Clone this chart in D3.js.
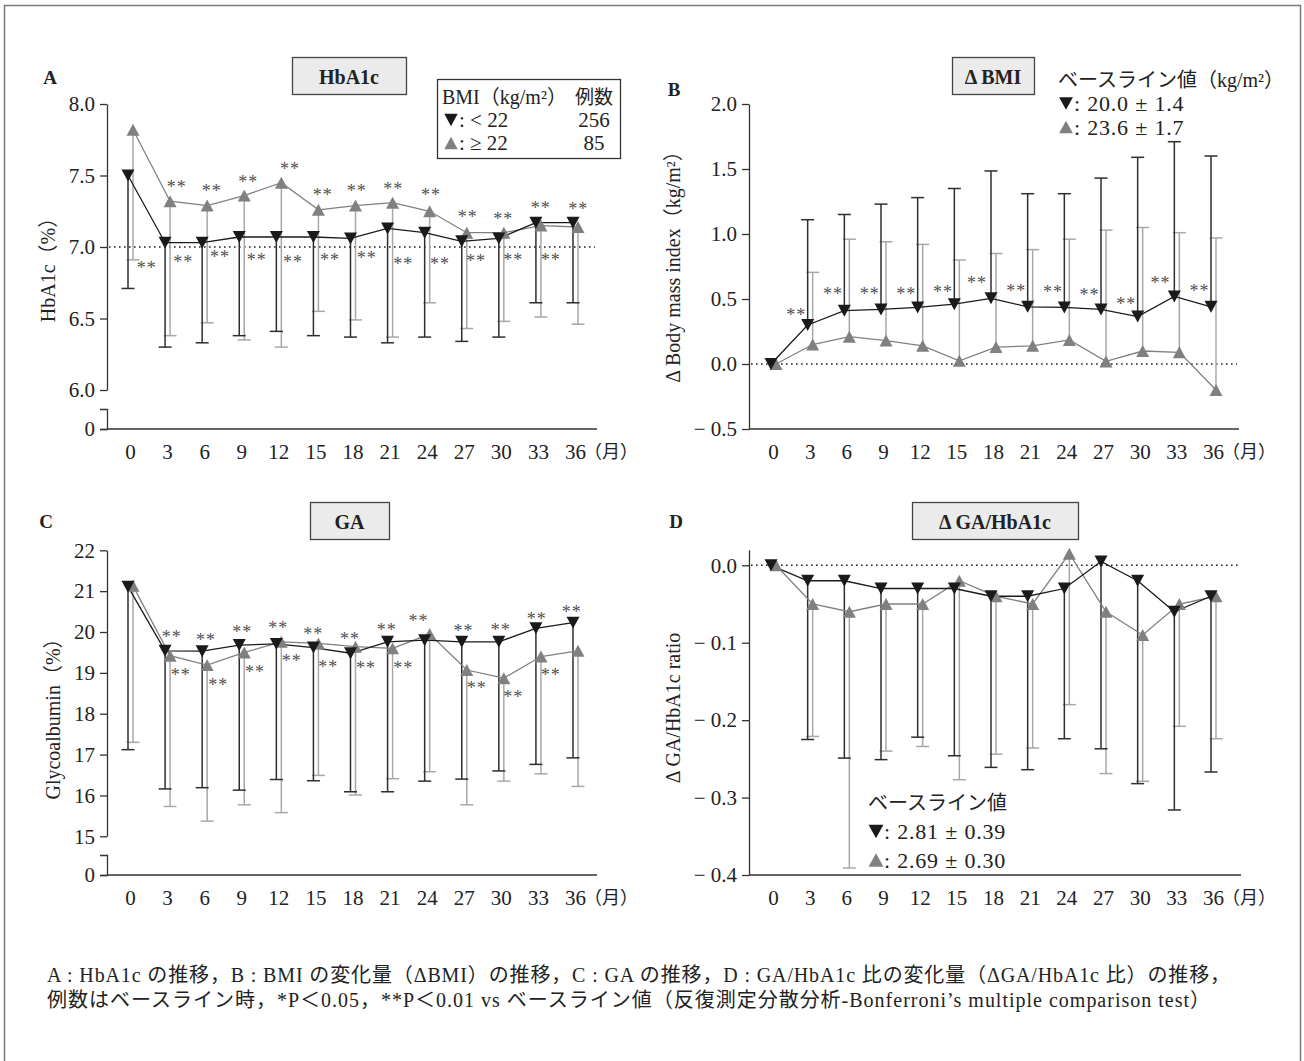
<!DOCTYPE html>
<html><head><meta charset="utf-8">
<script src="https://cdn.jsdelivr.net/npm/d3@7"></script>
<style>
body{margin:0;background:#fff;}
svg{display:block;}
text{font-family:"Liberation Serif","Noto Sans CJK JP",serif;fill:#222;}
</style></head><body>
<svg id="chart" width="1304" height="1061"></svg>
<script>
// ---------- data ----------
const months = [0,3,6,9,12,15,18,21,24,27,30,33,36];
const monthLabels = months.map(String);
const monthUnit = "（月）";

// Panel A: HbA1c (%)
const hba1cTicks = [8.0,7.5,7.0,6.5,6.0];
const hba1cLow    = [7.50,7.03,7.03,7.07,7.07,7.07,7.06,7.13,7.10,7.04,7.06,7.17,7.17];
const hba1cLowEnd = [6.71,6.30,6.33,6.38,6.41,6.38,6.37,6.33,6.37,6.34,6.37,6.61,6.61];
const hba1cHigh    = [7.82,7.32,7.29,7.36,7.45,7.26,7.29,7.31,7.25,7.10,7.10,7.15,7.14];
const hba1cHighEnd = [6.91,6.38,6.47,6.35,6.30,6.55,6.49,6.37,6.61,6.43,6.48,6.51,6.46];
const hba1cStarsHigh = [[3.78,7.44],[6.61,7.41],[9.57,7.47],[12.94,7.56],[15.59,7.38],[18.34,7.41],[21.30,7.42],[24.35,7.38],[27.32,7.23],[30.20,7.21],[33.23,7.29],[36.27,7.28]];
const hba1cStarsLow = [[1.35,6.87],[4.31,6.91],[7.28,6.95],[10.25,6.93],[13.19,6.91],[16.18,6.93],[19.15,6.94],[22.11,6.90],[25.08,6.90],[28.0,6.92],[31.01,6.93],[34.04,6.93]];

// Panel B: ΔBMI (kg/m2)
const bmiTicks = [2.0,1.5,1.0,0.5,0.0,-0.5];
const bmiLow    = [0,0.30,0.41,0.42,0.435,0.46,0.505,0.44,0.435,0.42,0.365,0.52,0.44];
const bmiLowEnd = [null,1.11,1.15,1.23,1.28,1.35,1.485,1.31,1.31,1.43,1.59,1.71,1.60];
const bmiHigh    = [0,0.15,0.21,0.18,0.14,0.025,0.13,0.14,0.185,0.02,0.10,0.09,-0.20];
const bmiHighEnd = [null,0.705,0.96,0.94,0.92,0.80,0.85,0.88,0.96,1.03,1.05,1.01,0.97];
const bmiStarsLow = [[1.91,0.40],[4.91,0.56],[7.91,0.56],[10.91,0.56],[13.91,0.57],[16.7,0.64],[19.9,0.58],[22.9,0.57],[25.9,0.55],[28.9,0.48],[31.7,0.64],[34.9,0.58]];

// Panel C: GA (%)
const gaTicks = [22,21,20,19,18,17,16,15];
const gaLow    = [21.11,19.54,19.53,19.68,19.71,19.62,19.48,19.76,19.80,19.76,19.76,20.09,20.23];
const gaLowEnd = [17.12,16.16,16.19,16.13,16.39,16.36,16.09,16.09,16.35,16.40,16.60,16.76,16.92];
const gaHigh    = [21.13,19.42,19.19,19.50,19.76,19.72,19.64,19.60,19.95,19.07,18.87,19.40,19.54];
const gaHighEnd = [17.30,15.73,15.37,15.77,15.58,16.49,16.01,16.41,16.58,15.77,16.35,16.53,16.22];
const gaStarsLow = [[3.37,19.95],[6.15,19.86],[9.09,20.05],[12.0,20.15],[14.83,20.01],[17.8,19.88],[20.77,20.12],[23.33,20.34],[26.97,20.09],[29.99,20.12],[32.9,20.37],[35.74,20.56]];
const gaStarsHigh = [[4.10,19.00],[7.14,18.76],[10.11,19.09],[13.08,19.36],[16.04,19.21],[19.09,19.19],[22.11,19.19],[28.05,18.70],[31.01,18.46],[34.04,19.00]];

// Panel D: ΔGA/HbA1c ratio
const ratioTicks = [0.0,-0.1,-0.2,-0.3,-0.4];
const ratioLow    = [0,-0.02,-0.02,-0.03,-0.03,-0.03,-0.04,-0.04,-0.03,0.005,-0.02,-0.06,-0.04];
const ratioLowEnd = [null,-0.225,-0.249,-0.251,-0.222,-0.246,-0.261,-0.264,-0.224,-0.237,-0.282,-0.316,-0.267];
const ratioHigh    = [0,-0.05,-0.06,-0.05,-0.05,-0.02,-0.04,-0.05,0.015,-0.06,-0.09,-0.05,-0.04];
const ratioHighEnd = [null,-0.221,-0.391,-0.240,-0.234,-0.277,-0.244,-0.236,-0.180,-0.269,-0.279,-0.208,-0.224];

// texts
const panelLetters = ["A","B","C","D"];
const panelTitles = ["HbA1c","Δ BMI","GA","Δ GA/HbA1c"];
const yTitles = ["HbA1c（%）","Δ Body mass index（kg/m²）","Glycoalbumin（%）","Δ GA/HbA1c ratio"];
const legendAHeader = ["BMI（kg/m²）","例数"];
const legendARows = [[": < 22","256"],[": ≥ 22","85"]];
const baselineHeaderB = "ベースライン値（kg/m²）";
const baselineRowsB = [": 20.0 ± 1.4", ": 23.6 ± 1.7"];
const baselineHeaderD = "ベースライン値";
const baselineRowsD = [": 2.81 ± 0.39", ": 2.69 ± 0.30"];
const captionLines = [
  "A : HbA1c の推移，B : BMI の変化量（ΔBMI）の推移，C : GA の推移，D : GA/HbA1c 比の変化量（ΔGA/HbA1c 比）の推移，",
  "例数はベースライン時，*P＜0.05，**P＜0.01 vs ベースライン値（反復測定分散分析-Bonferroni’s multiple comparison test）"
];

// ---------- drawing ----------
const svg = d3.select("#chart");
const C_BLACK = "#1a1a1a", C_GRAY = "#808080", C_BLACK_ERR = "#2e2e2e", C_GRAY_ERR = "#a8a8a8";
const DX_BLACK = -2, DX_GRAY = 3;

const triDown = {draw(ctx, size){const w=Math.sqrt(size), h=w*0.92; ctx.moveTo(-w/2,-h/2); ctx.lineTo(w/2,-h/2); ctx.lineTo(0,h/2); ctx.closePath();}};
const triUp = {draw(ctx, size){const w=Math.sqrt(size), h=w*0.92; ctx.moveTo(-w/2,h/2); ctx.lineTo(w/2,h/2); ctx.lineTo(0,-h/2); ctx.closePath();}};

svg.append("rect").attr("x",4.5).attr("y",5.5).attr("width",1296).attr("height",1080)
  .attr("fill","none").attr("stroke","#7a7a7a").attr("stroke-width",1.5);

function fmtSigned(dec){ return v => (v < -1e-9 ? "− " : "") + Math.abs(v).toFixed(dec); }

function drawPanel(cfg){
  const g = svg.append("g");
  const x = d3.scaleLinear().domain([0,36]).range(cfg.xr);
  const y = d3.scaleLinear().domain(cfg.yDomain).range(cfg.yRange);

  g.append("g").attr("transform",`translate(${cfg.axisX},0)`)
    .call(d3.axisLeft(y).tickValues(cfg.ticks).tickFormat(cfg.fmt).tickSize(7).tickSizeOuter(0).tickPadding(5));
  if (cfg.baseY !== undefined && cfg.breakTop !== undefined){
    const y0 = d3.scaleLinear().domain([0,1]).range([cfg.baseY, cfg.breakTop]);
    g.append("g").attr("transform",`translate(${cfg.axisX},0)`)
      .call(d3.axisLeft(y0).tickValues([0]).tickFormat(d=>"0").tickSize(7).tickSizeOuter(7).tickPadding(5));
  }
  g.selectAll(".domain, .tick line").attr("stroke","#333").attr("stroke-width",1.3);
  g.selectAll(".tick text").attr("font-size",21).attr("font-family","Liberation Serif").attr("fill","#222");

  const base = cfg.baseY !== undefined ? cfg.baseY : y.range()[0];
  g.append("line").attr("x1",cfg.axisX).attr("x2",cfg.axisEnd).attr("y1",base).attr("y2",base)
    .attr("stroke","#333").attr("stroke-width",1.3);
  const xa = g.append("g").attr("transform",`translate(0,${base})`)
    .call(d3.axisBottom(x).tickValues(months).tickFormat((d,i)=>monthLabels[i]).tickSize(0).tickPadding(15));
  xa.select(".domain").remove();
  xa.selectAll("text").attr("font-size",21).attr("font-family","Liberation Serif").attr("fill","#222");
  g.append("text").attr("x",x(36)+9).attr("y",base+23).attr("dominant-baseline","central")
    .attr("font-size",18).text(monthUnit);

  if (cfg.refLine !== undefined){
    g.append("line").attr("x1",cfg.axisX+2).attr("x2",cfg.axisEnd-2).attr("y1",y(cfg.refLine)).attr("y2",y(cfg.refLine))
      .attr("stroke","#222").attr("stroke-width",1.6).attr("stroke-dasharray","1.6,3.4");
  }

  const series = [
    {vals:cfg.high, ends:cfg.highEnd, dx:DX_GRAY, col:C_GRAY, ecol:C_GRAY_ERR, sym:triUp},
    {vals:cfg.low, ends:cfg.lowEnd, dx:DX_BLACK, col:C_BLACK, ecol:C_BLACK_ERR, sym:triDown}
  ];
  series.forEach(s=>{
    const eg = g.append("g");
    months.forEach((m,i)=>{
      if (s.ends[i] === null) return;
      const cx = x(m)+s.dx;
      eg.append("line").attr("x1",cx).attr("x2",cx).attr("y1",y(s.vals[i])).attr("y2",y(s.ends[i]))
        .attr("stroke",s.ecol).attr("stroke-width",1.5);
      eg.append("line").attr("x1",cx-6.5).attr("x2",cx+6.5).attr("y1",y(s.ends[i])).attr("y2",y(s.ends[i]))
        .attr("stroke",s.ecol).attr("stroke-width",1.5);
    });
  });
  series.forEach(s=>{
    const line = d3.line().x((d,i)=>x(months[i])+s.dx).y(d=>y(d));
    g.append("path").attr("d",line(s.vals)).attr("fill","none").attr("stroke",s.col).attr("stroke-width",1.3);
  });
  series.forEach(s=>{
    g.append("g").selectAll("path").data(s.vals).join("path")
      .attr("transform",(d,i)=>`translate(${x(months[i])+s.dx},${y(d)})`)
      .attr("d",d3.symbol().type(s.sym).size(169)).attr("fill",s.col);
  });
  (cfg.stars||[]).forEach(list=>{
    g.append("g").selectAll("text").data(list).join("text")
      .attr("x",d=>x(d[0])).attr("y",d=>y(d[1])+8.5).attr("text-anchor","middle")
      .attr("font-size",18).attr("letter-spacing",1).style("fill","#505050").text("**");
  });

  g.append("text").attr("transform",`translate(${cfg.yTitlePos[0]},${cfg.yTitlePos[1]}) rotate(-90)`)
    .attr("text-anchor","middle").attr("dominant-baseline","central").attr("font-size",20).text(cfg.yTitle);
  g.append("text").attr("x",cfg.letterPos[0]).attr("y",cfg.letterPos[1]).attr("text-anchor","middle")
    .attr("dominant-baseline","central").attr("font-size",19).attr("font-weight","bold").text(cfg.letter);
  const b = cfg.titleBox;
  g.append("rect").attr("x",b[0]+0.5).attr("y",b[1]+0.5).attr("width",b[2]).attr("height",b[3])
    .attr("fill","#ebebeb").attr("stroke","#444").attr("stroke-width",1.3);
  g.append("text").attr("x",b[0]+b[2]/2).attr("y",b[1]+b[3]/2+1).attr("text-anchor","middle")
    .attr("dominant-baseline","central").attr("font-size",20).attr("font-weight","bold").text(cfg.title);
  return {g,x,y};
}

drawPanel({letter:panelLetters[0], title:panelTitles[0], yTitle:yTitles[0],
  axisX:107, axisEnd:597, xr:[130,575], yDomain:[6,8], yRange:[390,104], baseY:429, breakTop:409,
  ticks:hba1cTicks, fmt:d=>d.toFixed(1), refLine:7.0,
  low:hba1cLow, lowEnd:hba1cLowEnd, high:hba1cHigh, highEnd:hba1cHighEnd,
  stars:[hba1cStarsHigh,hba1cStarsLow], yTitlePos:[48,265], letterPos:[50,77], titleBox:[292,57,114,37]});

drawPanel({letter:panelLetters[1], title:panelTitles[1], yTitle:yTitles[1],
  axisX:749, axisEnd:1239, xr:[773,1213], yDomain:[-0.5,2.0], yRange:[429,104],
  ticks:bmiTicks, fmt:fmtSigned(1), refLine:0,
  low:bmiLow, lowEnd:bmiLowEnd, high:bmiHigh, highEnd:bmiHighEnd,
  stars:[bmiStarsLow], yTitlePos:[673,262], letterPos:[674,89], titleBox:[952,57,82,37]});

drawPanel({letter:panelLetters[2], title:panelTitles[2], yTitle:yTitles[2],
  axisX:107, axisEnd:597, xr:[130,575], yDomain:[15,22], yRange:[836.3,550.3], baseY:875, breakTop:855,
  ticks:gaTicks, fmt:d=>String(d),
  low:gaLow, lowEnd:gaLowEnd, high:gaHigh, highEnd:gaHighEnd,
  stars:[gaStarsLow,gaStarsHigh], yTitlePos:[53,714], letterPos:[46,521], titleBox:[310,502,79,37]});

drawPanel({letter:panelLetters[3], title:panelTitles[3], yTitle:yTitles[3],
  axisX:749, axisEnd:1241, xr:[773,1213], yDomain:[-0.4,0.02], yRange:[875,549.8],
  ticks:ratioTicks, fmt:fmtSigned(1), refLine:0,
  low:ratioLow, lowEnd:ratioLowEnd, high:ratioHigh, highEnd:ratioHighEnd,
  stars:[], yTitlePos:[673,708], letterPos:[676,521], titleBox:[912,502,166,37]});

// legend A
const lg = svg.append("g");
lg.append("rect").attr("x",437.5).attr("y",79.5).attr("width",183).attr("height",79)
  .attr("fill","#fff").attr("stroke","#333").attr("stroke-width",1.3);
lg.append("text").attr("x",442).attr("y",97).attr("dominant-baseline","central").attr("font-size",20).text(legendAHeader[0]);
lg.append("text").attr("x",594).attr("y",97).attr("text-anchor","middle").attr("dominant-baseline","central").attr("font-size",19).text(legendAHeader[1]);
[[triDown,C_BLACK],[triUp,C_GRAY]].forEach((s,i)=>{
  const yy = 120 + i*23;
  lg.append("path").attr("transform",`translate(451,${yy})`).attr("d",d3.symbol().type(s[0]).size(180)).attr("fill",s[1]);
  lg.append("text").attr("x",459).attr("y",yy).attr("dominant-baseline","central").attr("font-size",21).text(legendARows[i][0]);
  lg.append("text").attr("x",594).attr("y",yy).attr("text-anchor","middle").attr("dominant-baseline","central").attr("font-size",21).text(legendARows[i][1]);
});

// baseline legends B and D
function baselineLegend(x0, y0, step, header, rows, symSize, fs){
  const g = svg.append("g");
  g.append("text").attr("x",x0).attr("y",y0).attr("dominant-baseline","central").attr("font-size",20).attr("fill","#333").text(header);
  [[triDown,C_BLACK],[triUp,C_GRAY]].forEach((s,i)=>{
    const yy = y0 + step*(i+1);
    g.append("path").attr("transform",`translate(${x0+8},${yy})`).attr("d",d3.symbol().type(s[0]).size(symSize)).attr("fill",s[1]);
    g.append("text").attr("x",x0+16).attr("y",yy).attr("dominant-baseline","central").attr("font-size",fs)
      .attr("letter-spacing",0.8).text(rows[i]);
  });
}
baselineLegend(1058, 80, 23.5, baselineHeaderB, baselineRowsB, 190, 22);
baselineLegend(868, 803, 28.5, baselineHeaderD, baselineRowsD, 220, 22);

// caption
const capWidths = [1183, 1163];
svg.append("g").selectAll("text").data(captionLines).join("text")
  .attr("x",47).attr("y",(d,i)=>975+i*25).attr("dominant-baseline","central").attr("font-size",20).attr("fill","#333")
  .attr("textLength",(d,i)=>capWidths[i]).attr("lengthAdjust","spacing")
  .text(d=>d);
</script>
</body></html>
